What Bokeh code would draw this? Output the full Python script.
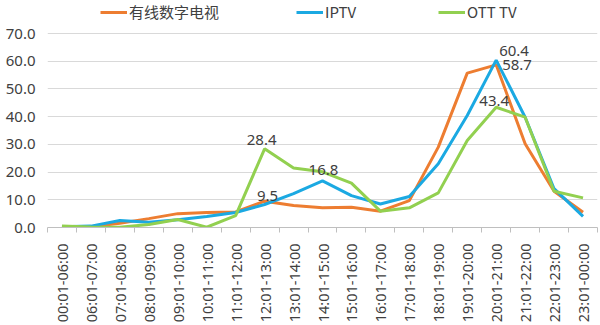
from bokeh.plotting import figure
from bokeh.models import Range1d, FixedTicker, NumeralTickFormatter, Legend, LegendItem
from bokeh.core.properties import value
from bokeh.embed import file_html
from bokeh.resources import INLINE
import math

categories = ["00:01-06:00", "06:01-07:00", "07:01-08:00", "08:01-09:00", "09:01-10:00",
              "10:01-11:00", "11:01-12:00", "12:01-13:00", "13:01-14:00", "14:01-15:00",
              "15:01-16:00", "16:01-17:00", "17:01-18:00", "18:01-19:00", "19:01-20:00",
              "20:01-21:00", "21:01-22:00", "22:01-23:00", "23:01-00:00"]
cable = [0.1, 0.3, 1.5, 3.2, 5.0, 5.4, 5.6, 9.5, 7.9, 7.1, 7.3, 5.9, 9.7, 29.0, 55.7,
         58.7, 30.2, 13.1, 5.5]
iptv = [0.3, 0.5, 2.5, 1.9, 2.8, 4.0, 5.4, 8.3, 12.2, 16.8, 11.5, 8.5, 11.2, 23.0, 40.4,
        60.4, 39.8, 14.0, 4.0]
ott = [0.5, 0.2, 0.1, 1.1, 2.9, 0.1, 4.3, 28.4, 21.5, 20.1, 16.0, 5.9, 7.1, 12.5, 31.4,
       43.4, 39.8, 13.1, 10.7]
series_names = ["有线数字电视", "IPTV", "OTT TV"]
yticks = [0, 10, 20, 30, 40, 50, 60, 70]

xs = list(range(len(categories)))
colors = ["#ED7D31", "#1BA9E2", "#92D050"]
font = "Noto Sans"
cjk_font = "Noto Sans CJK SC"

# frame spans the full height above the axis; the extra headroom above 70 holds the legend
p = figure(width=600, height=325, output_backend="svg", toolbar_location=None,
           x_range=Range1d(-0.5, len(categories) - 0.5), y_range=Range1d(0, 70 * 227 / 194),
           min_border_left=47, min_border_right=3, min_border_top=0, min_border_bottom=98)
p.outline_line_color = None
p.background_fill_color = "white"
p.border_fill_color = "white"

# axes
p.xaxis.ticker = FixedTicker(ticks=xs, minor_ticks=[i - 0.5 for i in range(len(categories) + 1)])
p.xaxis.major_label_overrides = {i: c for i, c in enumerate(categories)}
p.xaxis.major_label_orientation = math.pi / 2
p.xaxis.major_tick_line_color = None
p.xaxis.minor_tick_line_color = "#BFBFBF"
p.xaxis.minor_tick_out = 5
p.xaxis.minor_tick_in = 0
p.xaxis.axis_line_color = "#BFBFBF"
p.xaxis.major_label_text_font = font
p.xaxis.major_label_text_font_size = "14.5px"
p.xaxis.major_label_text_color = "#404040"
p.xaxis.major_label_standoff = 10
p.xgrid.grid_line_color = None

p.yaxis.ticker = FixedTicker(ticks=yticks)
p.yaxis.formatter = NumeralTickFormatter(format="0.0")
p.yaxis.axis_line_color = None
p.yaxis.major_tick_line_color = None
p.yaxis.minor_tick_line_color = None
p.yaxis.major_label_text_font = font
p.yaxis.major_label_text_font_size = "15px"
p.yaxis.major_label_text_color = "#404040"
p.yaxis.major_label_standoff = 12
p.yaxis.major_tick_out = 0
p.yaxis.major_tick_in = 0
p.ygrid.grid_line_color = "#D9D9D9"

renderers = []
for data, col in zip([cable, iptv, ott], colors):
    r = p.line(xs, data, line_color=col, line_width=3)
    renderers.append(r)

# data labels
lab_specs = [
    (ott, 7, -3, 4, "center", "bottom"),
    (cable, 7, 3, 0, "center", "bottom"),
    (iptv, 9, 1, 6, "center", "bottom"),
    (iptv, 15, 3, 4, "left", "bottom"),
    (cable, 15, 6, 0, "left", "middle"),
    (ott, 15, -2, 1, "center", "bottom"),
]
for data, idx, dx, dy, align, baseline in lab_specs:
    p.text(x=[xs[idx]], y=[data[idx]], text=["%.1f" % data[idx]], x_offset=dx, y_offset=-dy,
           text_align=align, text_baseline=baseline, text_font=value(font),
           text_font_size="15px", text_color="#404040")

# legends
leg_x = [53, 249, 391]
for name, r, lx in zip(series_names, renderers, leg_x):
    lg = Legend(items=[LegendItem(label=name, renderers=[r])], location=(lx, 205),
                orientation="horizontal", background_fill_alpha=0, border_line_color=None,
                padding=0, margin=0, glyph_width=27, glyph_height=20, label_standoff=2,
                label_text_font=cjk_font, label_text_font_size="15px",
                label_text_color="#404040")
    p.add_layout(lg, "center")

open("out.html", "w").write(file_html(p, INLINE))
